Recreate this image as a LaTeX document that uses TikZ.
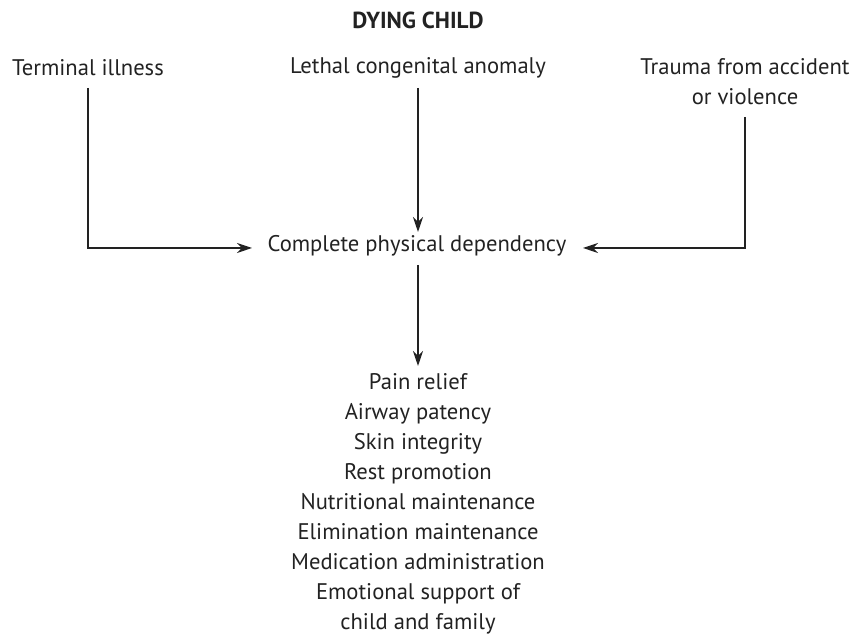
\documentclass[tikz,border=0pt]{standalone}
\usepackage{fontspec}
\setmainfont{PT Sans}
\usetikzlibrary{arrows.meta}
\definecolor{ink}{HTML}{222222}
\begin{document}
\begin{tikzpicture}[x=0.5pt,y=-0.5pt,
  lbl/.style={inner sep=0pt,text=ink,font=\fontsize{11.3}{15}\selectfont,align=center},
  conn/.style={draw=ink,line width=0.6pt,-{Stealth[length=7.5pt,width=5pt]}}]
\useasboundingbox (0,0) rectangle (859,635);
\node[lbl,font=\fontsize{11.6}{15}\selectfont\bfseries] (title) at (418,20) {DYING CHILD};
\node[lbl] (term) at (88,68) {Terminal illness};
\node[lbl] (leth) at (418,68) {Lethal congenital anomaly};
\node[lbl] (trau) at (745,82) {Trauma from accident\\or violence};
\node[lbl] (dep) at (417,246) {Complete physical dependency};
\node[lbl] (care) at (418,504) {Pain relief\\Airway patency\\Skin integrity\\Rest promotion\\Nutritional maintenance\\Elimination maintenance\\Medication administration\\Emotional support of\\child and family};
% bends and arrow tips of the connectors
\coordinate (tl) at (88,88);
\coordinate (tr) at (745,117);
\coordinate (ml) at (88,248);
\coordinate (mr) at (745,248);
\coordinate (inl) at (252,248);
\coordinate (inr) at (583,248);
\coordinate (intop) at (418,232);
\coordinate (outbot) at (418,265);
\coordinate (incare) at (418,366);
\draw[conn] (tl) -- (ml) -- (inl);
\draw[conn] (tr) -- (mr) -- (inr);
\draw[conn] (leth.south |- tl) -- (intop);
\draw[conn] (outbot) -- (incare);
\end{tikzpicture}
\end{document}
